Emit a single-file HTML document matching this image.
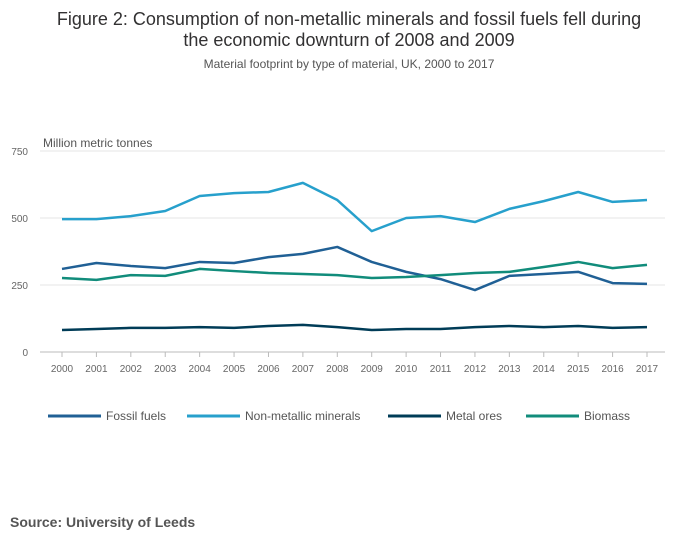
<!DOCTYPE html>
<html><head><meta charset="utf-8"><style>
body{margin:0;background:#fff;font-family:"Liberation Sans",sans-serif;}
#wrap{position:relative;width:700px;height:549px;overflow:hidden;}
</style></head><body>
<div id="wrap">
<svg id="chart" width="700" height="549">
<text x="349" y="25" text-anchor="middle" font-size="18" fill="#323132">Figure 2: Consumption of non-metallic minerals and fossil fuels fell during</text>
<text x="349" y="46" text-anchor="middle" font-size="18" fill="#323132">the economic downturn of 2008 and 2009</text>
<text x="349" y="68" text-anchor="middle" font-size="12" fill="#555">Material footprint by type of material, UK, 2000 to 2017</text>
<text x="43" y="147" font-size="12" fill="#555">Million metric tonnes</text>
<text x="10" y="527" font-size="14" font-weight="bold" fill="#555">Source: University of Leeds</text>
<g id="grid"></g><g id="xt"></g><g id="series"></g><g id="legend"></g>
</svg>
</div>
<script>
const years=[2000,2001,2002,2003,2004,2005,2006,2007,2008,2009,2010,2011,2012,2013,2014,2015,2016,2017];
const yTicks=[0,250,500,750];
const fossil=[310,332,321,313,336,332,354,366,392,336,299,272,231,284,291,299,257,254];
const nonMetallic=[496,496,507,526,582,593,597,631,567,451,500,507,485,534,563,597,560,567];
const metal=[82,86,90,90,93,90,97,101,93,82,86,86,93,97,93,97,90,93];
const biomass=[276,269,287,284,310,302,295,291,287,276,280,287,295,299,317,336,313,325];
const seriesNames=["Fossil fuels","Non-metallic minerals","Metal ores","Biomass"];
const seriesData=[fossil,nonMetallic,metal,biomass];
const colors=["#206095","#27a0cc","#003c57","#118c7b"];
const NS="http://www.w3.org/2000/svg";
const X0=62,X1=647,Y0=352,Y1=151;
const xs=i=>X0+(X1-X0)*i/(years.length-1);
const ys=v=>Y0-(Y0-Y1)*v/750;
function mk(tag,attrs,parent){const e=document.createElementNS(NS,tag);for(const k in attrs)e.setAttribute(k,attrs[k]);parent.appendChild(e);return e;}
const grid=document.getElementById('grid');
yTicks.forEach(t=>{
 const l=mk('line',{x1:40,x2:665,y1:ys(t),y2:ys(t),stroke:t===0?'#bbb':'#e6e6e6','stroke-width':1},grid);
 
 
 const tx=mk('text',{x:28,y:ys(t)+4,'text-anchor':'end','font-size':10,fill:'#666'},grid);
 tx.textContent=t;
 
 
});
const xt=document.getElementById('xt');
years.forEach((y,i)=>{
 const l=mk('line',{x1:xs(i),x2:xs(i),y1:352,y2:357,stroke:'#bbb'},xt);
 
 
 const t=mk('text',{x:xs(i),y:372,'text-anchor':'middle','font-size':10,fill:'#666'},xt);
 t.textContent=y;
 
 
});
const sg=document.getElementById('series');
seriesData.forEach((d,si)=>{
 const p=mk('polyline',{points:d.map((v,i)=>xs(i)+','+ys(v)).join(' '),fill:'none',stroke:colors[si],'stroke-width':2.5,'stroke-linejoin':'round'},sg);
 
 
});
const lg=document.getElementById('legend');
const lx=[48,187,388,526];
seriesNames.forEach((n,i)=>{
 const g=mk('g',{},lg);
 
 
 mk('line',{x1:lx[i],x2:lx[i]+53,y1:416,y2:416,stroke:colors[i],'stroke-width':3},g);
 const t=mk('text',{x:lx[i]+58,y:420,'font-size':12,fill:'#555'},g);
 t.textContent=n;
});
</script>
</body></html>
